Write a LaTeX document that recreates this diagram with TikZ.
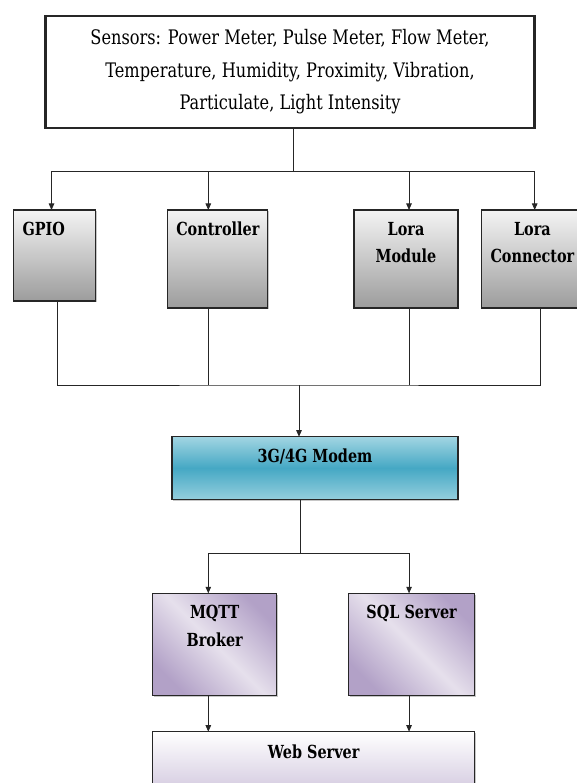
\documentclass[tikz,border=0pt]{standalone}
\usepackage{fontspec}
\usetikzlibrary{arrows.meta,shadows,calc}
\newfontfamily\sensfont[FakeStretch=0.81]{DejaVu Serif}
\newfontfamily\boxfont[FakeStretch=0.80]{DejaVu Serif Bold}
\definecolor{grayTop}{HTML}{F4F4F4}
\definecolor{grayBot}{HTML}{9C9C9C}
\definecolor{tealLight}{HTML}{A2D5E2}
\definecolor{tealDark}{HTML}{45A8C4}
\definecolor{purpDark}{HTML}{B2A1C7}
\definecolor{purpLight}{HTML}{E6E0EC}
\definecolor{webBot}{HTML}{CCC1DA}
\tikzset{
  every node/.style={inner sep=0pt, outer sep=0pt},
  boxbase/.style={draw=black!85, line width=1.1pt, anchor=north west,
    drop shadow={shadow xshift=1.2pt, shadow yshift=-1.2pt, opacity=0.45}},
  graybox/.style={boxbase, top color=grayTop, bottom color=grayBot},
  modembox/.style={boxbase, top color=tealLight, bottom color=tealLight!85!tealDark, middle color=tealDark},
  purpbox/.style={boxbase, left color=purpDark, right color=purpDark, middle color=purpLight, shading angle=135},
  webbox/.style={boxbase, top color=white, bottom color=webBot},
  lbl/.style={anchor=north, yshift=-12pt, font=\boxfont\fontsize{18}{27.5}\selectfont, align=center},
  conn/.style={line width=0.8pt, draw=black!85},
  arr/.style={conn, -{Triangle[length=6.5pt,width=5.5pt]}}
}
\begin{document}
\begin{tikzpicture}[x=1pt,y=-1pt]
\useasboundingbox (0,0) rectangle (577,783);
% top box
\node[draw=black!85, line width=2.2pt, fill=white, anchor=north west,
      minimum width=489pt, minimum height=112pt,
      drop shadow={shadow xshift=1.5pt, shadow yshift=-1.5pt, opacity=0.5},
      font=\sensfont\fontsize{20}{32.5}\selectfont, align=center]
  (sens) at (45.5,16)
  {Sensors: Power Meter, Pulse Meter, Flow Meter,\\Temperature, Humidity, Proximity, Vibration,\\Particulate, Light Intensity};
% second row
\node[graybox, minimum width=82pt, minimum height=91pt,
      label={[lbl, anchor=north west, xshift=9pt]north west:GPIO}] (gpio) at (13.6,210) {};
\node[graybox, minimum width=100pt, minimum height=98pt,
      label={[lbl]north:Controller}] (ctrl) at (167.8,210) {};
\node[graybox, minimum width=104pt, minimum height=98pt,
      label={[lbl]north:Lora\\Module}] (lmod) at (354,210) {};
\node[graybox, minimum width=100pt, minimum height=98pt,
      label={[lbl, xshift=1pt]north:Lora\\Connector}] (lcon) at (481.4,210) {};
% modem
\node[modembox, minimum width=286pt, minimum height=62.6pt,
      label={[lbl]north:3G/4G Modem}] (modem) at (172,436.7) {};
% servers
\node[purpbox, minimum width=124pt, minimum height=102.4pt,
      label={[lbl]north:MQTT\\Broker}] (mqtt) at (152.7,593.3) {};
\node[purpbox, minimum width=126.3pt, minimum height=102.4pt,
      label={[lbl]north:SQL Server}] (sql) at (348.5,593.3) {};
\node[webbox, minimum width=322pt, minimum height=70pt,
      label={[lbl, yshift=-1pt]north:Web Server}] (web) at (152.7,731.7) {};
% connectors: sensors to row
\coordinate (t1) at (293.3,171.7);
\draw[conn] (t1 |- sens.south) -- (t1);
\draw[arr] (t1) -| ([xshift=-3.1pt]gpio.north);
\draw[arr] (t1) -| ([xshift=3.3pt]lcon.north);
\draw[arr] ([xshift=-9.5pt]ctrl.north |- t1) -- ([xshift=-9.5pt]ctrl.north);
\draw[arr] ([xshift=3pt]lmod.north |- t1) -- ([xshift=3pt]lmod.north);
% row to modem
\coordinate (b1) at (299,385);
\draw[conn] ([xshift=3.2pt]gpio.south) |- (b1) -| ([xshift=9pt]lcon.south);
\draw[conn] ([xshift=-9.5pt]ctrl.south) -- ([xshift=-9.5pt]ctrl.south |- b1);
\draw[conn] ([xshift=3pt]lmod.south) -- ([xshift=3pt]lmod.south |- b1);
\draw[arr] (b1) -- (b1 |- modem.north);
% modem to servers
\coordinate (m1) at (300,553);
\draw[conn] (m1 |- modem.south) -- (m1);
\draw[arr] (m1) -| ([xshift=-6.4pt]mqtt.north);
\draw[arr] (m1) -| ([xshift=-2.6pt]sql.north);
% servers to web
\draw[arr] ([xshift=-6.4pt]mqtt.south) -- ([xshift=-6.4pt]mqtt.south |- web.north);
\draw[arr] ([xshift=-2.6pt]sql.south) -- ([xshift=-2.6pt]sql.south |- web.north);
\end{tikzpicture}
\end{document}
